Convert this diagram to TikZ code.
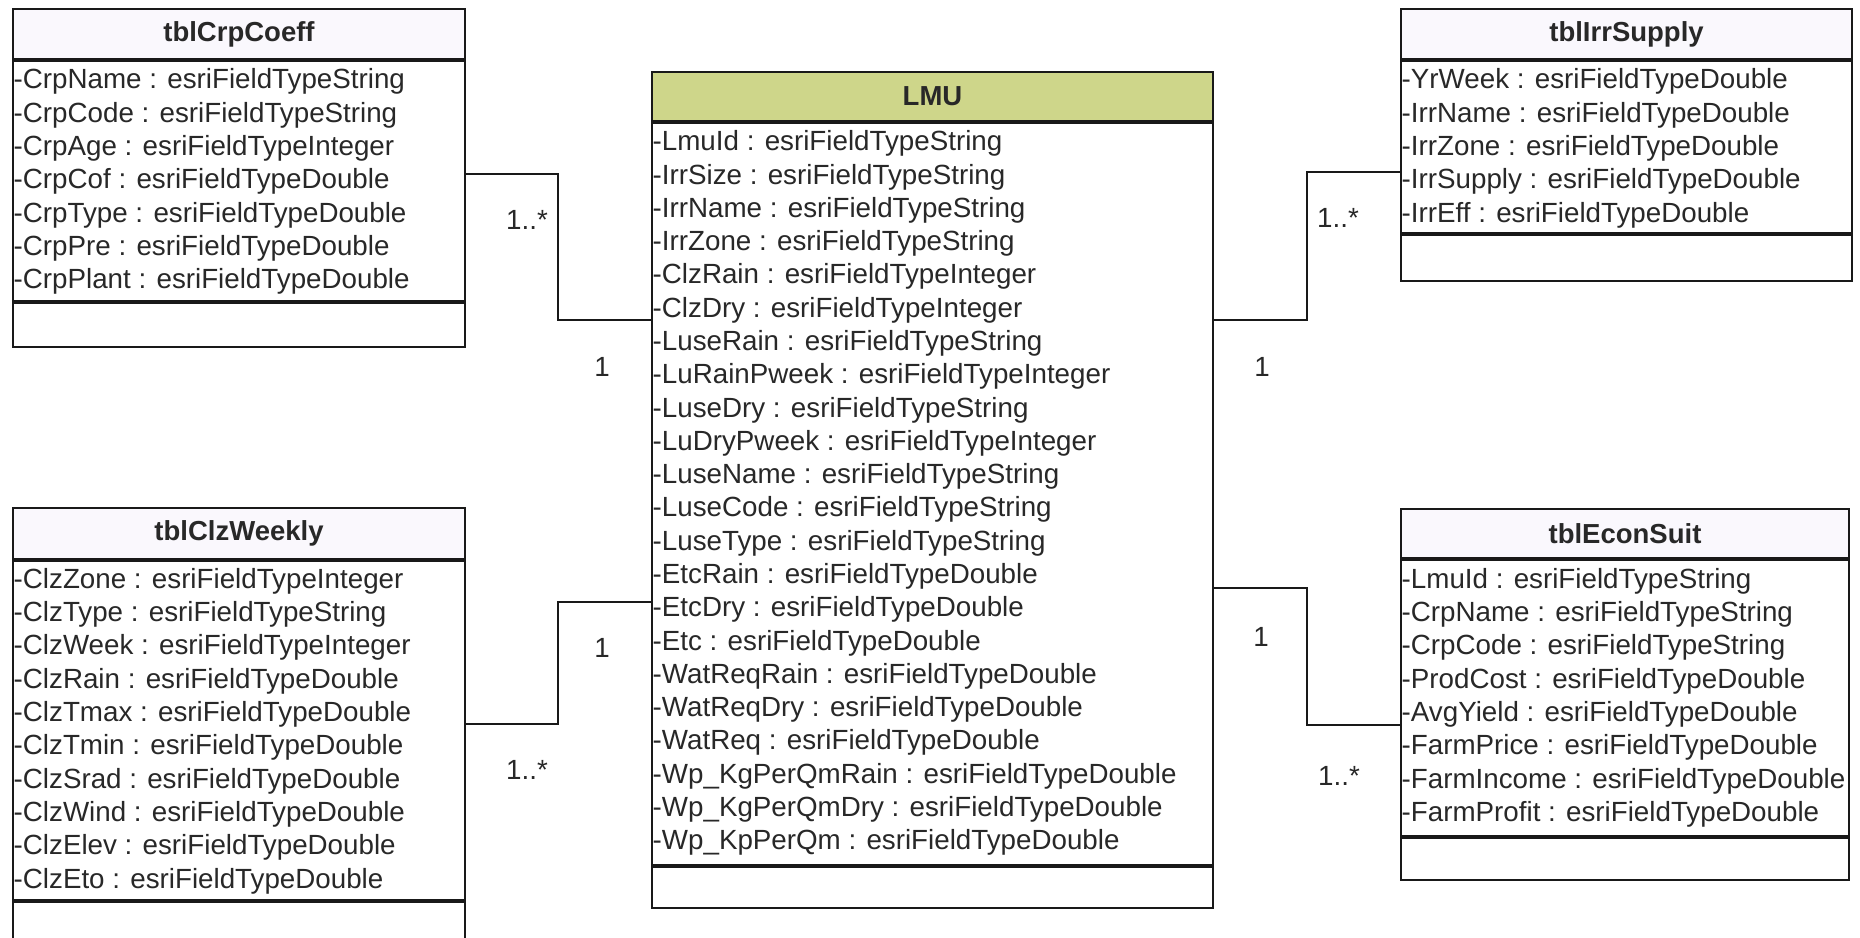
\documentclass[tikz,border=0pt]{standalone}
\usepackage{fontspec}
\setmainfont{Liberation Sans}
\usetikzlibrary{calc}
\definecolor{ink}{RGB}{40,40,40}
\definecolor{edge}{RGB}{25,25,25}
\definecolor{hdrfill}{RGB}{250,248,253}
\definecolor{keyfill}{RGB}{206,214,138}
\tikzset{
  sect/.style={rectangle, draw=edge, line width=2pt, fill=white, inner sep=0pt, anchor=north},
  hdr/.style={sect, fill=hdrfill, text=ink, font=\bfseries\fontsize{27.5}{33}\selectfont},
  attr/.style={anchor=west, inner sep=0pt, text=ink, text height=19.7pt, text depth=0pt,
    font=\fontsize{27.75}{33}\selectfont},
  mult/.style={attr, anchor=center},
  wire/.style={draw=edge, line width=1.8pt}
}
\begin{document}
\begin{tikzpicture}[x=1pt,y=-1pt]
\useasboundingbox[fill=white] (0,0) rectangle (1860,937);

% ---- tblCrpCoeff ----
\node[hdr, minimum width=452pt, minimum height=50pt] (crp) at (239,8) {tblCrpCoeff};
\node[sect, minimum width=452pt, minimum height=240pt] (crpA) at (crp.south) {};
\node[sect, minimum width=452pt, minimum height=44pt] (crpM) at (crpA.south) {};
\foreach \n/\ty [count=\i] in {CrpName/String, CrpCode/String, CrpAge/Integer,
    CrpCof/Double, CrpType/Double, CrpPre/Double, CrpPlant/Double}
  \node[attr] (crp-\i) at ($(crpA.north west)+(1.5,19+33.3*\i-33.3)$) {-\n{} : esriFieldType\ty};

% ---- tblIrrSupply ----
\node[hdr, minimum width=451pt, minimum height=50pt] (irr) at (1626.5,8) {tblIrrSupply};
\node[sect, minimum width=451pt, minimum height=172pt] (irrA) at (irr.south) {};
\node[sect, minimum width=451pt, minimum height=46pt] (irrM) at (irrA.south) {};
\foreach \n/\ty [count=\i] in {YrWeek/Double, IrrName/Double, IrrZone/Double,
    IrrSupply/Double, IrrEff/Double}
  \node[attr] (irr-\i) at ($(irrA.north west)+(1.5,19+33.3*\i-33.3)$) {-\n{} : esriFieldType\ty};

% ---- tblClzWeekly ----
\node[hdr, minimum width=452pt, minimum height=51pt] (clz) at (239,507) {tblClzWeekly};
\node[sect, minimum width=452pt, minimum height=339pt] (clzA) at (clz.south) {};
\node[sect, minimum width=452pt, minimum height=44pt] (clzM) at (clzA.south) {};
\foreach \n/\ty [count=\i] in {ClzZone/Integer, ClzType/String, ClzWeek/Integer,
    ClzRain/Double, ClzTmax/Double, ClzTmin/Double, ClzSrad/Double, ClzWind/Double,
    ClzElev/Double, ClzEto/Double}
  \node[attr] (clz-\i) at ($(clzA.north west)+(1.5,18.5+33.3*\i-33.3)$) {-\n{} : esriFieldType\ty};

% ---- tblEconSuit ----
\node[hdr, minimum width=448pt, minimum height=49pt] (econ) at (1625,508) {tblEconSuit};
\node[sect, minimum width=448pt, minimum height=276pt] (econA) at (econ.south) {};
\node[sect, minimum width=448pt, minimum height=42pt] (econM) at (econA.south) {};
\foreach \n/\ty [count=\i] in {LmuId/String, CrpName/String, CrpCode/String,
    ProdCost/Double, AvgYield/Double, FarmPrice/Double, FarmIncome/Double,
    FarmProfit/Double}
  \node[attr] (econ-\i) at ($(econA.north west)+(1.5,19.5+33.3*\i-33.3)$) {-\n{} : esriFieldType\ty};

% ---- LMU ----
\node[hdr, fill=keyfill, minimum width=561pt, minimum height=49pt] (lmu) at (932.5,71) {LMU};
\node[sect, minimum width=561pt, minimum height=742pt] (lmuA) at (lmu.south) {};
\node[sect, minimum width=561pt, minimum height=41pt] (lmuM) at (lmuA.south) {};
\foreach \n/\ty [count=\i] in {LmuId/String, IrrSize/String, IrrName/String,
    IrrZone/String, ClzRain/Integer, ClzDry/Integer, LuseRain/String,
    LuRainPweek/Integer, LuseDry/String, LuDryPweek/Integer, LuseName/String,
    LuseCode/String, LuseType/String, EtcRain/Double, EtcDry/Double, Etc/Double,
    WatReqRain/Double, WatReqDry/Double, WatReq/Double, Wp\_KgPerQmRain/Double,
    Wp\_KgPerQmDry/Double, Wp\_KpPerQm/Double}
  \node[attr] (lmu-\i) at ($(lmuA.north west)+(1.5,19+33.28*\i-33.28)$) {-\n{} : esriFieldType\ty};

% ---- associations ----
\coordinate (b1) at (558,174);  \coordinate (b2) at (558,320);
\coordinate (b3) at (1307,320); \coordinate (b4) at (1307,172);
\coordinate (b5) at (558,724);  \coordinate (b6) at (558,602);
\coordinate (b7) at (1307,588); \coordinate (b8) at (1307,725);
\draw[wire] (crpA.east |- b1) -- (b1) -- (b2) -- (lmuA.west |- b2);
\draw[wire] (lmuA.east |- b3) -- (b3) -- (b4) -- (irrA.west |- b4);
\draw[wire] (clzA.east |- b5) -- (b5) -- (b6) -- (lmuA.west |- b6);
\draw[wire] (lmuA.east |- b7) -- (b7) -- (b8) -- (econA.west |- b8);

% ---- multiplicities ----
\node[mult] (m1) at (527,220) {1..*};
\node[mult] (m2) at (602,367) {1};
\node[mult] (m3) at (1338,218) {1..*};
\node[mult] (m4) at (1262,367) {1};
\node[mult] (m5) at (602,648) {1};
\node[mult] (m6) at (527,770) {1..*};
\node[mult] (m7) at (1261,637) {1};
\node[mult] (m8) at (1339,776) {1..*};
\end{tikzpicture}
\end{document}
